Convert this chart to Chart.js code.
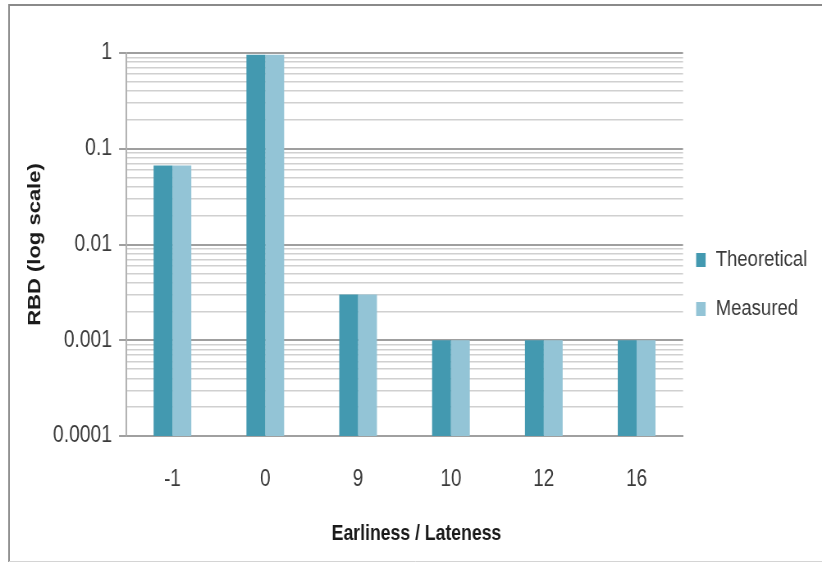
<!DOCTYPE html>
<html>
<head>
<meta charset="utf-8">
<script src="https://cdn.jsdelivr.net/npm/chart.js@4/dist/chart.umd.min.js"></script>
<style>
  html, body { margin: 0; padding: 0; background: #fff; overflow: hidden; width: 822px; height: 563px; }
  /* drawn wide, shown narrow: gives the condensed lettering of the figure */
  canvas { display: block; transform: scaleX(0.82036); transform-origin: 0 0; }
</style>
</head>
<body>
<canvas id="chart" width="1002" height="563"></canvas>
<script>
// Relative bit deviation per earliness/lateness offset
const categories = ['-1', '0', '9', '10', '12', '16'];
const theoretical = [0.067, 0.96, 0.003, 0.001, 0.001, 0.001];
const measured = [0.067, 0.96, 0.003, 0.001, 0.001, 0.001];
const seriesNames = ['Theoretical', 'Measured'];
const seriesColors = ['#4399B0', '#93C4D6'];

// Decade ticks of the log axis and their printed labels
const decadeValues = [0.0001, 0.001, 0.01, 0.1, 1];
const decadeLabels = ['0.0001', '0.001', '0.01', '0.1', '1'];

const xTitle = 'Earliness / Lateness';
const yTitle = 'RBD (log scale)';

const FONT = "'Liberation Sans', Arial, 'DejaVu Sans', sans-serif";

const isDecade = v => Math.abs(Math.log10(v) - Math.round(Math.log10(v))) < 1e-9;

// every 1..9 multiple inside each decade, so each gets a grid line
function logGridTicks() {
  const out = [];
  for (let i = 0; i < decadeValues.length - 1; i++) {
    for (let m = 1; m <= 9; m++) out.push({ value: +(decadeValues[i] * m).toPrecision(6) });
  }
  out.push({ value: decadeValues[decadeValues.length - 1] });
  return out;
}

// page frame behind the chart
const framePlugin = {
  id: 'frame',
  beforeDraw(chart) {
    const c = chart.ctx;
    c.save();
    c.fillStyle = '#fff';
    c.fillRect(0, 0, chart.width, chart.height);
    c.strokeStyle = '#8a8a8a';
    c.lineWidth = 2;
    c.beginPath();
    c.moveTo(11, 562); c.lineTo(11, 5); c.lineTo(chart.width, 5);
    c.stroke();
    c.strokeStyle = '#d4d4d4';
    c.lineWidth = 1;
    c.beginPath();
    c.moveTo(11, 561.5); c.lineTo(chart.width, 561.5);
    c.stroke();
    c.restore();
  }
};

// legend at the right of the plot, built from the datasets, plus the x-axis caption
const sideLegend = {
  id: 'sideLegend',
  afterDraw(chart) {
    const c = chart.ctx;
    const area = chart.chartArea;
    c.save();
    c.font = '22.5px ' + FONT;
    c.textBaseline = 'middle';
    c.textAlign = 'left';
    chart.data.datasets.forEach((ds, i) => {
      const y = area.top + 207 + i * 49;
      c.fillStyle = ds.backgroundColor;
      c.fillRect(area.right + 16, y - 7, 11.5, 14);
      c.fillStyle = '#3a3a3a';
      c.fillText(ds.label, area.right + 40, y);
    });
    // x-axis caption, set a little right of the plot centre
    c.font = 'bold 21.5px ' + FONT;
    c.textAlign = 'center';
    c.fillStyle = '#1a1a1a';
    c.fillText(xTitle, (area.left + area.right) / 2 + 14.6, 534);
    c.restore();
  }
};

new Chart(document.getElementById('chart'), {
  type: 'bar',
  data: {
    labels: categories,
    datasets: [
      { label: seriesNames[0], data: theoretical, backgroundColor: seriesColors[0] },
      { label: seriesNames[1], data: measured, backgroundColor: seriesColors[1] }
    ]
  },
  options: {
    responsive: false,
    animation: false,
    devicePixelRatio: 1,
    layout: { padding: { left: 14, right: 169.4, top: 53, bottom: 12 } },
    datasets: { bar: { barPercentage: 1, categoryPercentage: 0.406, borderWidth: 0 } },
    plugins: {
      legend: { display: false },
      tooltip: { enabled: false }
    },
    scales: {
      x: {
        type: 'category',
        offset: true,
        grid: { display: false, drawTicks: false },
        border: { display: true, color: '#a0a0a0', width: 2 },
        ticks: { color: '#3a3a3a', font: { family: FONT, size: 23 }, padding: 30, maxRotation: 0 },
        title: { display: false },
        afterFit(scale) { scale.height = 115; }
      },
      y: {
        type: 'logarithmic',
        min: decadeValues[0],
        max: decadeValues[decadeValues.length - 1],
        afterBuildTicks(scale) { scale.ticks = logGridTicks(); },
        ticks: {
          autoSkip: false,
          color: '#3a3a3a',
          font: { family: FONT, size: 23.5 },
          padding: 8.6,
          callback(value) {
            const idx = decadeValues.findIndex(d => Math.abs(d - value) < d * 1e-6);
            return idx >= 0 ? decadeLabels[idx] : '';
          }
        },
        grid: {
          color: ctx => isDecade(ctx.tick.value) ? '#9f9f9f' : '#d0d0d0',
          lineWidth: ctx => isDecade(ctx.tick.value) ? 2 : 1.6,
          tickColor: ctx => isDecade(ctx.tick.value) ? '#9f9f9f' : 'rgba(0,0,0,0)',
          tickLength: 8.5
        },
        border: { display: true, color: '#a8a8a8', width: 1.8 },
        title: {
          display: true, text: yTitle, color: '#1a1a1a',
          font: { family: FONT, size: 22, weight: 'bold' }, padding: { top: 16, bottom: 0 }
        },
        afterFit(scale) { scale.width = 139.6; }
      }
    }
  },
  plugins: [framePlugin, sideLegend]
});
</script>
</body>
</html>
